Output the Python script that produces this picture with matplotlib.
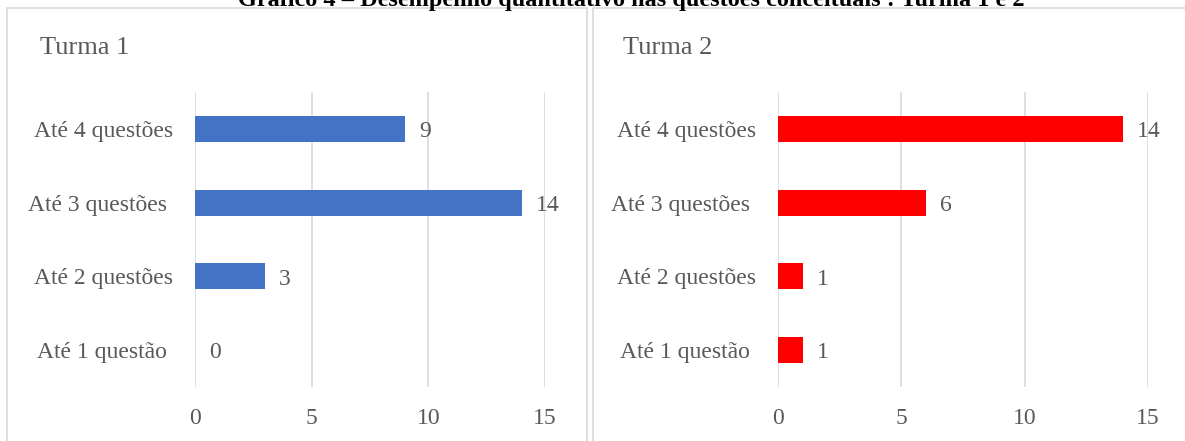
import matplotlib.pyplot as plt
from matplotlib.patches import Rectangle

plt.rcParams['font.family'] = ['Liberation Serif', 'DejaVu Serif']

categorias = ['Até 1 questão ', 'Até 2 questões', 'Até 3 questões ', 'Até 4 questões']
turma1 = [0, 3, 14, 9]
turma2 = [1, 1, 6, 14]
ticks_x = [0, 5, 10, 15]

W, H = 1185, 441
fig = plt.figure(figsize=(W / 100, H / 100), dpi=100)

cinza = '#595959'
grade = '#d9d9d9'

# molduras dos graficos
fig.patches.append(Rectangle((7 / W, -0.05), 580 / W, 1.05 - 8 / H, transform=fig.transFigure,
                             fill=False, edgecolor=grade, linewidth=1.2))
fig.patches.append(Rectangle((593 / W, -0.05), 600 / W, 1.05 - 8 / H, transform=fig.transFigure,
                             fill=False, edgecolor=grade, linewidth=1.2))

fig.text(631 / W, 1 - 6 / H, 'Gráfico 4 – Desempenho quantitativo nas questões conceituais : Turma 1 e 2',
         ha='center', va='baseline', fontsize=17.5, fontweight='bold', color='black')


def painel(left, right, valores, cor, titulo, tx):
    ax = fig.add_axes([left / W, 1 - 387 / H, (right - left) / W, (387 - 92) / H])
    y = range(len(categorias))
    ax.barh(y, valores, height=0.35, color=cor, zorder=3)
    ax.set_xlim(0, 15)
    ax.set_ylim(-0.5, len(categorias) - 0.5)
    ax.set_yticks(list(y))
    ax.set_yticklabels(categorias)
    ax.set_xticks(ticks_x)
    ax.tick_params(axis='both', length=0, labelsize=17, colors=cinza)
    ax.tick_params(axis='x', pad=15)
    ax.tick_params(axis='y', pad=16)
    ax.grid(axis='x', color=grade, linewidth=1.2, zorder=0)
    for s in ax.spines.values():
        s.set_visible(False)
    for i, v in enumerate(valores):
        ax.annotate(str(v), (v, i), xytext=(10, -2), textcoords='offset points',
                    ha='left', va='center', fontsize=17, color=cinza)
    fig.text(tx / W, 1 - 48 / H, titulo, ha='left', va='center', fontsize=19, color=cinza)
    return ax


painel(195, 545, turma1, '#4472C4', 'Turma 1', 40)
painel(778, 1148, turma2, '#FF0000', 'Turma 2', 623)

fig.savefig('out.png', dpi=100)
